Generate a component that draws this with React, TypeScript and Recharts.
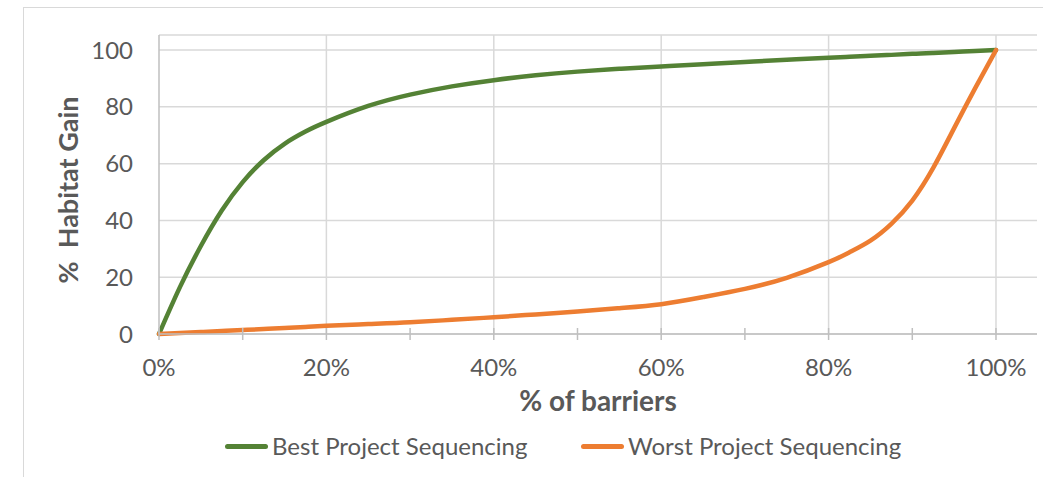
import React from "react";
import { LineChart, Line, XAxis, YAxis, CartesianGrid, ReferenceLine } from "recharts";

// share of barriers removed (x) and habitat gain (%) for each ordering
const barrierShare = [
  0, 0.025, 0.05, 0.075, 0.1, 0.125, 0.15, 0.175, 0.2, 0.25, 0.3, 0.35, 0.4,
  0.45, 0.5, 0.55, 0.6, 0.65, 0.7, 0.75, 0.8, 0.825, 0.85, 0.875, 0.9, 0.925,
  0.95, 0.975, 1,
];
const bestGain = [
  0, 16.5, 31, 43.5, 53.5, 61.2, 67, 71.3, 74.7, 80.3, 84.3, 87.2, 89.4, 91.1,
  92.4, 93.4, 94.2, 95.0, 95.8, 96.6, 97.3, 97.6, 98.0, 98.3, 98.7, 99.0, 99.3,
  99.7, 100,
];
const worstGain = [
  0, 0.35, 0.7, 1.05, 1.4, 1.75, 2.1, 2.5, 2.9, 3.5, 4.1, 5.0, 5.9, 6.9, 7.9,
  9.1, 10.5, 13.0, 15.9, 19.8, 25.3, 28.8, 32.9, 38.8, 47, 58.5, 72.5, 86.5, 100,
];

const xTicks = [0, 0.1, 0.2, 0.3, 0.4, 0.5, 0.6, 0.7, 0.8, 0.9, 1];
const xGrid = [0.2, 0.4, 0.6, 0.8, 1];
const yTicks = [0, 20, 40, 60, 80, 100];

const seriesNames = ["Best Project Sequencing", "Worst Project Sequencing"];
const GREEN = "#548235";
const ORANGE = "#ed7d31";
const TEXT = "#595959";
const FONT = "Lato, 'Open Sans', sans-serif";

const data = barrierShare.map((x, i) => ({
  x,
  best: bestGain[i],
  worst: worstGain[i],
}));

const XTick = (props: any) => {
  const { x, y, payload } = props;
  const pct = Math.round(payload.value * 100);
  return (
    <g>
      <line x1={x} x2={x} y1={y - 6} y2={y + 6} stroke="#bfbfbf" strokeWidth={1.5} />
      {pct % 20 === 0 && (
        <text
          x={x}
          y={y + 42}
          textAnchor="middle"
          fill={TEXT}
          fontSize={24}
          fontFamily={FONT}
        >
          {pct + "%"}
        </text>
      )}
    </g>
  );
};

export default function App() {
  return (
    <div
      style={{
        position: "absolute",
        left: 0,
        top: 0,
        width: 1043,
        height: 477,
        overflow: "hidden",
        background: "#fff",
        fontFamily: FONT,
      }}
    >
      <div
        style={{
          position: "absolute",
          left: 23,
          top: 7,
          width: 1040,
          height: 500,
          border: "1.5px solid #d9d9d9",
        }}
      />
      <div style={{ position: "absolute", left: 0, top: 0 }}>
        <LineChart
          width={1043}
          height={477}
          data={data}
          margin={{ top: 35, right: 6, bottom: 103, left: 79 }}
        >
          <CartesianGrid stroke="#d9d9d9" strokeWidth={1.5} vertical={false} />
          {xGrid.map((v) => (
            <ReferenceLine key={v} x={v} stroke="#d9d9d9" strokeWidth={1.5} />
          ))}
          <XAxis
            type="number"
            dataKey="x"
            domain={[0, 1.049]}
            ticks={xTicks}
            interval={0}
            height={40}
            tickSize={0}
            tickMargin={0}
            tickLine={false}
            axisLine={{ stroke: "#bfbfbf", strokeWidth: 1.5 }}
            tick={<XTick />}
          />
          <YAxis
            type="number"
            domain={[0, 105.3]}
            ticks={yTicks}
            interval={0}
            width={80}
            tickSize={0}
            tickMargin={26}
            tickLine={false}
            axisLine={{ stroke: "#bfbfbf", strokeWidth: 1.5 }}
            tick={{ fill: TEXT, fontSize: 24, fontFamily: FONT }}
          />
          <Line
            type="natural"
            dataKey="best"
            name={seriesNames[0]}
            stroke={GREEN}
            strokeWidth={4.5}
            strokeLinecap="round"
            dot={false}
            isAnimationActive={false}
          />
          <Line
            type="natural"
            dataKey="worst"
            name={seriesNames[1]}
            stroke={ORANGE}
            strokeWidth={4.5}
            strokeLinecap="round"
            dot={false}
            isAnimationActive={false}
          />
        </LineChart>
      </div>

      <div
        style={{
          position: "absolute",
          left: 0,
          width: 1196,
          top: 383,
          textAlign: "center",
          fontWeight: 700,
          fontSize: 28,
          color: TEXT,
          lineHeight: "34px",
        }}
      >
        % of barriers
      </div>
      <div
        style={{
          position: "absolute",
          left: 68 - 150,
          top: 190 - 17,
          width: 300,
          textAlign: "center",
          fontWeight: 700,
          fontSize: 27,
          color: TEXT,
          lineHeight: "34px",
          whiteSpace: "pre",
          transform: "rotate(-90deg)",
        }}
      >
        {"%  Habitat Gain"}
      </div>

      {[
        { name: seriesNames[0], color: GREEN, left: 225 },
        { name: seriesNames[1], color: ORANGE, left: 581 },
      ].map((item) => (
        <div
          key={item.name}
          style={{
            position: "absolute",
            left: item.left,
            top: 431,
            height: 30,
            display: "flex",
            alignItems: "center",
            whiteSpace: "nowrap",
          }}
        >
          <div
            style={{
              width: 43,
              height: 5,
              borderRadius: 3,
              background: item.color,
              marginRight: 4,
            }}
          />
          <span style={{ fontSize: 24, color: TEXT, lineHeight: "30px" }}>
            {item.name}
          </span>
        </div>
      ))}
    </div>
  );
}
